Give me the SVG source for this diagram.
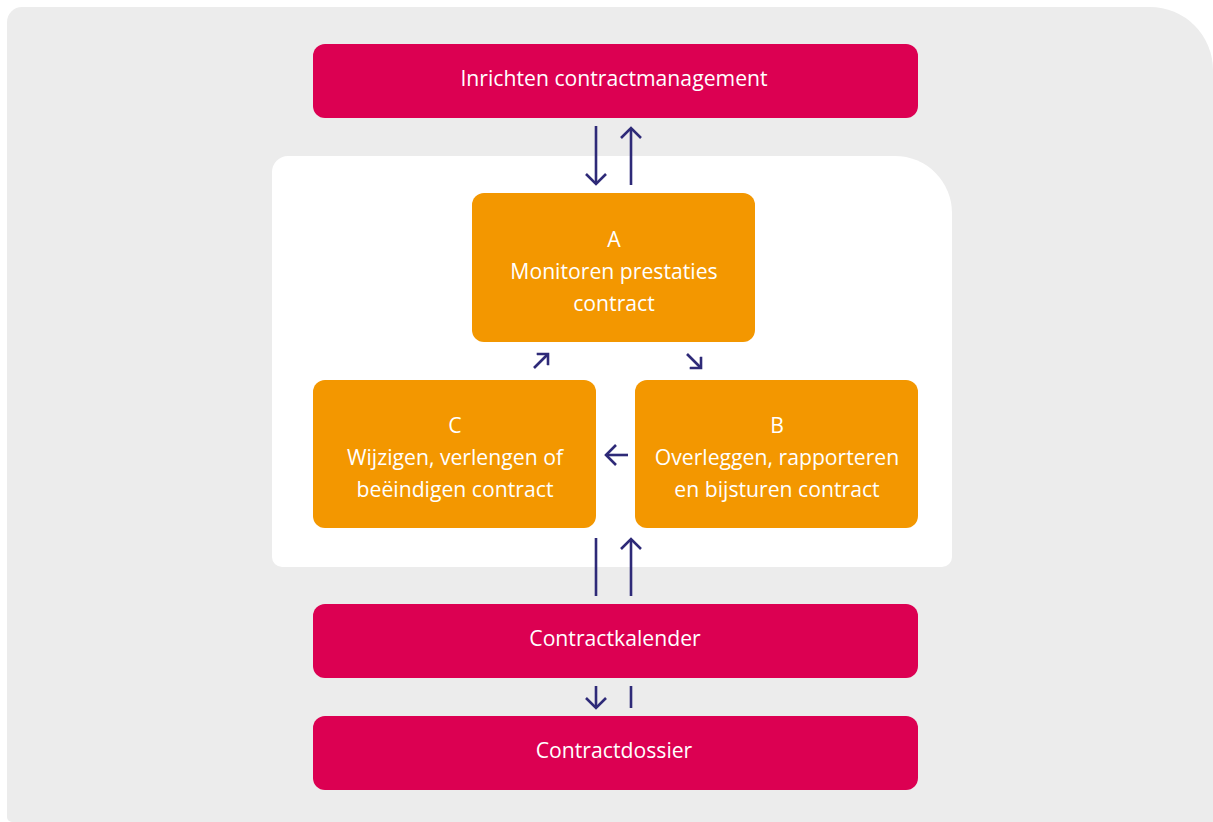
<svg xmlns="http://www.w3.org/2000/svg" width="1213" height="822" viewBox="0 0 1213 822">
<style>
.red{fill:#dc0052}
.org{fill:#f39700}
.t{font-family:"Open Sans","Liberation Sans",sans-serif;font-size:21.2px;fill:#ffffff;text-anchor:middle}
.c{stroke:#2e2a78;stroke-width:2.6;fill:none}
</style>
<defs>
<marker id="ah" viewBox="0 0 24 24" refX="11" refY="12" markerWidth="24" markerHeight="24" markerUnits="userSpaceOnUse" orient="auto">
<path d="M1,2 L11,12 L1,22" fill="none" stroke="#2e2a78" stroke-width="2.6"/>
</marker>
<marker id="ahs" viewBox="0 0 20 20" refX="9" refY="10" markerWidth="20" markerHeight="20" markerUnits="userSpaceOnUse" orient="auto">
<path d="M1,2 L9,10 L1,18" fill="none" stroke="#2e2a78" stroke-width="2.6"/>
</marker>
</defs>
<path d="M22,7 H1150 A63,63 0 0 1 1213,70 V822 H12 A5,5 0 0 1 7,817 V22 A15,15 0 0 1 22,7 Z" fill="#ececec"/>
<path d="M288,156 H895 A57,57 0 0 1 952,213 V557 A10,10 0 0 1 942,567 H282 A10,10 0 0 1 272,557 V172 A16,16 0 0 1 288,156 Z" fill="#ffffff"/>
<g id="inrichten"><rect class="red" x="313" y="44" width="605" height="74" rx="12"/><text class="t" x="614" y="86">Inrichten contractmanagement</text></g>
<g id="nodeA"><rect class="org" x="472" y="193" width="283" height="149" rx="12"/><text class="t" x="614" y="247">A</text><text class="t" x="614" y="279">Monitoren prestaties</text><text class="t" x="614" y="311">contract</text></g>
<g id="nodeC"><rect class="org" x="313" y="380" width="283" height="148" rx="12"/><text class="t" x="455" y="433">C</text><text class="t" x="455" y="465">Wijzigen, verlengen of</text><text class="t" x="455" y="497">beëindigen contract</text></g>
<g id="nodeB"><rect class="org" x="635" y="380" width="283" height="148" rx="12"/><text class="t" x="777" y="433">B</text><text class="t" x="777" y="465">Overleggen, rapporteren</text><text class="t" x="777" y="497">en bijsturen contract</text></g>
<g id="kalender"><rect class="red" x="313" y="604" width="605" height="74" rx="12"/><text class="t" x="615" y="646">Contractkalender</text></g>
<g id="dossier"><rect class="red" x="313" y="716" width="605" height="74" rx="12"/><text class="t" x="614" y="758">Contractdossier</text></g>
<g id="connectors">
<line class="c" x1="596" y1="126" x2="596" y2="184" marker-end="url(#ah)"/>
<line class="c" x1="631" y1="185" x2="631" y2="128" marker-end="url(#ah)"/>
<line class="c" x1="534" y1="368" x2="548" y2="354" marker-end="url(#ahs)"/>
<line class="c" x1="687" y1="354" x2="701" y2="368" marker-end="url(#ahs)"/>
<line class="c" x1="628" y1="455" x2="606" y2="455" marker-end="url(#ah)"/>
<line class="c" x1="596" y1="538" x2="596" y2="596"/>
<line class="c" x1="631" y1="596" x2="631" y2="539" marker-end="url(#ah)"/>
<line class="c" x1="596" y1="686" x2="596" y2="708" marker-end="url(#ah)"/>
<line class="c" x1="631" y1="686" x2="631" y2="708"/>
</g>
</svg>
